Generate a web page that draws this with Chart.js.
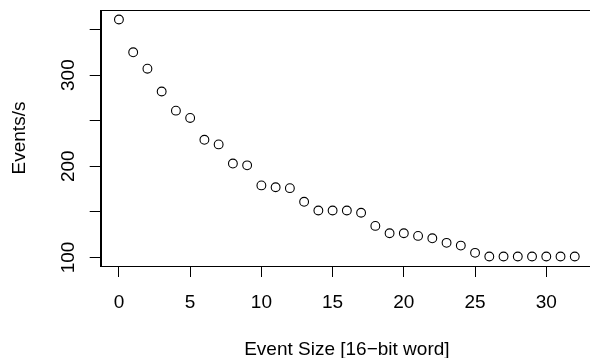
<!DOCTYPE html>
<html lang="en">
<head>
    <meta charset="UTF-8">
    <title>Events per second vs event size</title>
    <script src="https://cdn.jsdelivr.net/npm/chart.js@4.4.1/dist/chart.umd.min.js"></script>
    <style>
        body {
            margin: 0;
            background: white;
            overflow: hidden;
        }
        .wrap {
            width: 590px;
            height: 358px;
            overflow: hidden;
        }
        .box {
            width: 600px;
            height: 358px;
        }
    </style>
</head>
<body>
    <div class="wrap">
        <div class="box"><canvas id="plot"></canvas></div>
    </div>

    <script>
        // Data
        const eventSize = [0, 1, 2, 3, 4, 5, 6, 7, 8, 9, 10, 11, 12, 13, 14, 15, 16,
                           17, 18, 19, 20, 21, 22, 23, 24, 25, 26, 27, 28, 29, 30, 31, 32];
        const eventsPerSec = [361, 325, 307, 282, 261, 253, 229, 224, 203, 201, 179, 177, 176,
                              161, 151.5, 151.5, 151.5, 149, 134.6, 126.5, 126.5, 123.6, 121,
                              116, 113, 105, 101, 101, 101, 101, 101, 101, 101];
        const xTicks = [0, 5, 10, 15, 20, 25, 30];
        const yTicks = [100, 150, 200, 250, 300, 350];
        const yLabelled = [100, 200, 300];
        const xTitle = "Event Size [16\u2212bit word]";
        const yTitle = "Events/s";

        const FONT = "19px 'Liberation Sans', Arial, sans-serif";

        // R style frame + labels
        const rAxes = {
            id: "rAxes",
            afterDraw(chart) {
                const ctx = chart.ctx;
                const a = chart.chartArea;
                const xs = chart.scales.x, ys = chart.scales.y;
                ctx.save();
                ctx.strokeStyle = "#000";
                ctx.lineWidth = 1;
                ctx.strokeRect(Math.round(a.left) + 0.5, Math.round(a.top) + 0.5,
                               Math.round(a.right - a.left), Math.round(a.bottom - a.top));

                ctx.fillStyle = "#000";
                ctx.font = FONT;
                ctx.textAlign = "center";
                ctx.textBaseline = "alphabetic";

                xTicks.forEach(v => {
                    ctx.fillText(String(v), xs.getPixelForValue(v), 308);
                });
                yLabelled.forEach(v => {
                    ctx.save();
                    ctx.translate(74, ys.getPixelForValue(v));
                    ctx.rotate(-Math.PI / 2);
                    ctx.fillText(String(v), 0, 0);
                    ctx.restore();
                });

                ctx.fillText(xTitle, (a.left + a.right) / 2, 355);
                ctx.save();
                ctx.translate(25, (a.top + a.bottom) / 2);
                ctx.rotate(-Math.PI / 2);
                ctx.fillText(yTitle, 0, 0);
                ctx.restore();
                ctx.restore();
            }
        };

        new Chart(document.getElementById("plot"), {
            type: "scatter",
            data: {
                datasets: [{
                    data: eventSize.map((x, i) => ({ x: x, y: eventsPerSec[i] })),
                    pointStyle: "circle",
                    pointRadius: 4.4,
                    pointHoverRadius: 4.4,
                    borderColor: "#000",
                    backgroundColor: "rgba(0,0,0,0)",
                    borderWidth: 1.1
                }]
            },
            options: {
                responsive: true,
                maintainAspectRatio: false,
                animation: false,
                events: [],
                layout: { padding: { top: 10, right: 7, left: 0, bottom: 0 } },
                plugins: { legend: { display: false }, tooltip: { enabled: false } },
                scales: {
                    x: {
                        type: "linear",
                        min: -1.28,
                        max: 33.28,
                        afterBuildTicks: s => { s.ticks = xTicks.map(v => ({ value: v })); },
                        afterFit: s => { s.height = 92; },
                        ticks: { display: false },
                        grid: { drawOnChartArea: false, drawTicks: true, tickLength: 11, color: "#000" },
                        border: { display: true, color: "#000" }
                    },
                    y: {
                        type: "linear",
                        min: 90.6,
                        max: 371.4,
                        afterBuildTicks: s => { s.ticks = yTicks.map(v => ({ value: v })); },
                        afterFit: s => { s.width = 100.7; },
                        ticks: { display: false },
                        grid: { drawOnChartArea: false, drawTicks: true, tickLength: 11, color: "#000" },
                        border: { display: true, color: "#000" }
                    }
                }
            },
            plugins: [rAxes]
        });
    </script>
</body>
</html>
